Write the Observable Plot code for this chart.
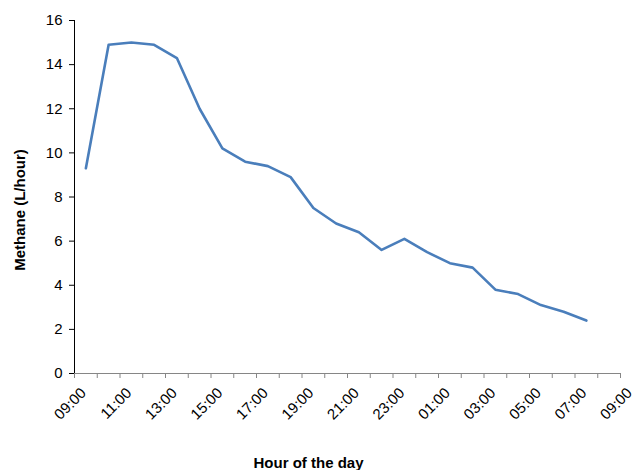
<!DOCTYPE html>
<html>
<head>
<meta charset="utf-8">
<script src="https://cdn.jsdelivr.net/npm/d3@7"></script>
<script src="https://cdn.jsdelivr.net/npm/@observablehq/plot@0.6"></script>
<style>
  html, body { margin: 0; padding: 0; background: #fff; }
</style>
</head>
<body>
<div id="chart"></div>
<script>
const times = ["09:30","10:30","11:30","12:30","13:30","14:30","15:30","16:30","17:30","18:30","19:30","20:30",
               "21:30","22:30","23:30","00:30","01:30","02:30","03:30","04:30","05:30","06:30","07:30"];
const methane = [9.3, 14.9, 15.0, 14.9, 14.3, 12.0, 10.2, 9.6, 9.4, 8.9, 7.5, 6.8,
                 6.4, 5.6, 6.1, 5.5, 5.0, 4.8, 3.8, 3.6, 3.1, 2.8, 2.4];
const tickLabels = ["09:00","11:00","13:00","15:00","17:00","19:00","21:00","23:00","01:00","03:00","05:00","07:00","09:00"];
const yTicks = [0, 2, 4, 6, 8, 10, 12, 14, 16];
const xTitle = "Hour of the day";
const yTitle = "Methane (L/hour)";

// hours elapsed since the first 09:00
const toOffset = s => { const [h, m] = s.split(":").map(Number); return ((h - 9 + 24) % 24) + m / 60; };
const data = times.map((t, i) => ({x: toOffset(t), y: methane[i]}));
const labelOffsets = tickLabels.map((_, i) => i * 2);
const hourTicks = d3.range(0, 25);

const chart = Plot.plot({
  width: 634,
  height: 470,
  marginLeft: 74,
  marginRight: 14,
  marginTop: 20,
  marginBottom: 97,
  style: {fontFamily: "'Liberation Sans', Arial, sans-serif", fontSize: "15px", color: "#000", background: "#fff"},
  x: {type: "linear", domain: [0, 24]},
  y: {domain: [0, 16]},
  marks: [
    Plot.axisY({ticks: yTicks, tickSize: 5, tickPadding: 7, label: null, stroke: "#000", fontSize: 15}),
    Plot.axisX({ticks: hourTicks, tickSize: 5, tickFormat: () => "", label: null, stroke: "#868686"}),
    Plot.axisX({ticks: labelOffsets, tickSize: 0, tickPadding: 17, tickRotate: -45, dx: 9,
                tickFormat: v => tickLabels[v / 2], label: null, fontSize: 15}),
    Plot.ruleY([0], {stroke: "#868686", strokeWidth: 1}),
    Plot.ruleX([0], {stroke: "#000", strokeWidth: 1}),
    Plot.line(data, {x: "x", y: "y", stroke: "#4a7ebb", strokeWidth: 2.6}),
    Plot.text([xTitle], {frameAnchor: "bottom", textAnchor: "middle", dx: -39, dy: 94, fontWeight: "bold", fontSize: 15, lineAnchor: "bottom"}),
    Plot.text([yTitle], {frameAnchor: "left", textAnchor: "middle", rotate: -90, dx: -50, dy: 13, fontWeight: "bold", fontSize: 15, lineAnchor: "bottom"})
  ]
});
document.getElementById("chart").appendChild(chart);
</script>
</body>
</html>
